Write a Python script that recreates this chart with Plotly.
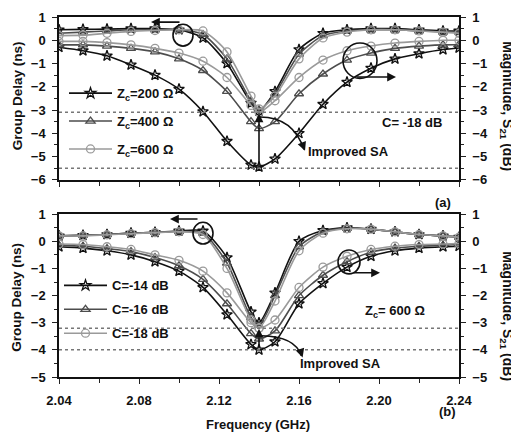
import plotly.graph_objects as go

# ---------------- data ----------------
FREQ = [2.040, 2.052, 2.064, 2.076, 2.088, 2.100, 2.112, 2.124, 2.136, 2.140,
        2.148, 2.160, 2.172, 2.184, 2.196, 2.208, 2.220, 2.232, 2.240]

# (a) C = -18 dB, varying Zc : group delay (left axis) and |S21| (right axis)
GD_A_200 = [0.45, 0.47, 0.48, 0.50, 0.50, 0.45, 0.10, -1.00, -2.70, -3.05,
            -2.20, -0.40, 0.30, 0.45, 0.50, 0.50, 0.45, 0.40, 0.40]
GD_A_400 = [0.30, 0.35, 0.40, 0.45, 0.45, 0.45, 0.25, -0.80, -2.60, -3.00,
            -2.30, -0.60, 0.20, 0.40, 0.45, 0.45, 0.40, 0.35, 0.35]
GD_A_600 = [0.20, 0.22, 0.30, 0.38, 0.42, 0.45, 0.40, -0.50, -2.40, -2.95,
            -2.40, -0.80, 0.10, 0.35, 0.45, 0.45, 0.40, 0.35, 0.30]
MAG_A_200 = [-0.30, -0.45, -0.67, -1.06, -1.50, -2.10, -3.07, -4.34, -5.36, -5.45,
             -5.10, -4.00, -2.75, -1.80, -1.20, -0.80, -0.58, -0.40, -0.33]
MAG_A_400 = [-0.20, -0.20, -0.25, -0.35, -0.50, -0.80, -1.30, -2.20, -3.50, -3.80,
             -3.50, -2.30, -1.45, -0.85, -0.55, -0.35, -0.25, -0.20, -0.18]
MAG_A_600 = [-0.05, -0.05, -0.10, -0.20, -0.35, -0.55, -0.90, -1.60, -2.80, -3.10,
             -2.60, -1.60, -0.85, -0.45, -0.25, -0.12, -0.05, 0.00, 0.00]

# (b) Zc = 600 ohm, varying C
GD_B_14 = [0.20, 0.22, 0.25, 0.30, 0.33, 0.38, 0.38, -0.60, -2.60, -3.00,
           -1.90, 0.00, 0.40, 0.50, 0.45, 0.35, 0.25, 0.20, 0.15]
GD_B_16 = [0.20, 0.22, 0.25, 0.30, 0.33, 0.36, 0.30, -0.80, -2.80, -3.10,
           -2.00, -0.20, 0.35, 0.48, 0.45, 0.35, 0.25, 0.20, 0.15]
GD_B_18 = [0.20, 0.20, 0.24, 0.28, 0.32, 0.35, 0.25, -1.00, -2.90, -3.20,
           -2.20, -0.35, 0.30, 0.46, 0.45, 0.35, 0.25, 0.20, 0.15]
MAG_B_14 = [-0.20, -0.25, -0.35, -0.50, -0.75, -1.10, -1.70, -2.70, -3.80, -4.00,
            -3.70, -2.30, -1.55, -0.95, -0.55, -0.35, -0.25, -0.20, -0.18]
MAG_B_16 = [-0.15, -0.18, -0.27, -0.38, -0.60, -0.90, -1.40, -2.30, -3.40, -3.60,
            -3.30, -2.00, -1.25, -0.75, -0.40, -0.25, -0.18, -0.15, -0.12]
MAG_B_18 = [-0.10, -0.12, -0.20, -0.30, -0.50, -0.70, -1.10, -1.90, -3.00, -3.20,
            -2.90, -1.70, -0.95, -0.55, -0.30, -0.18, -0.12, -0.10, -0.08]

LEGEND_A = ["Z<sub>c</sub>=200 Ω", "Z<sub>c</sub>=400 Ω", "Z<sub>c</sub>=600 Ω"]
LEGEND_B = ["C=-14 dB", "C=-16 dB", "C=-18 dB"]

REF_A = [-3.1, -5.5]      # dotted reference levels (a)
REF_B = [-3.2, -4.0]      # dotted reference levels (b)
DIP_F = 2.14

# ---------------- styles ----------------
COLORS = ["#111111", "#4d4d4d", "#9a9a9a"]
SYMBOLS = ["star-open", "triangle-up-open", "circle-open"]
FONT = "Liberation Sans, Arial, sans-serif"

fig = go.Figure()

def add_pair(gd, mag, i, name, xa, ygd, ymag, legend, group):
    common = dict(x=FREQ, mode="lines+markers", line_shape="spline",
                  line=dict(color=COLORS[i], width=1.6, smoothing=0.7),
                  marker=dict(symbol=SYMBOLS[i], size=8, color=COLORS[i],
                              line=dict(width=1.3, color=COLORS[i])),
                  legendgroup=group, legend=legend, name=name)
    fig.add_trace(go.Scatter(y=gd, xaxis=xa, yaxis=ygd, showlegend=True, **common))
    fig.add_trace(go.Scatter(y=mag, xaxis=xa, yaxis=ymag, showlegend=False, **common))

for i, (g, m) in enumerate([(GD_A_200, MAG_A_200), (GD_A_400, MAG_A_400), (GD_A_600, MAG_A_600)]):
    add_pair(g, m, i, LEGEND_A[i], "x", "y", "y3", "legend", "a%d" % i)
for i, (g, m) in enumerate([(GD_B_14, MAG_B_14), (GD_B_16, MAG_B_16), (GD_B_18, MAG_B_18)]):
    add_pair(g, m, i, LEGEND_B[i], "x2", "y2", "y4", "legend2", "b%d" % i)

tickfont = dict(family=FONT, size=13, color="#111111", weight="bold")
xcommon = dict(range=[2.04, 2.24], tick0=2.04, dtick=0.04, ticks="outside", ticklen=5,
               tickwidth=1.3, tickcolor="#222",
               minor=dict(dtick=0.02, ticks="outside", ticklen=4, tickcolor="#222"),
               showline=True, linecolor="#111", linewidth=1.5, mirror=True,
               showgrid=False, zeroline=False, tickfont=tickfont, tickformat=".2f")
ycommon = dict(dtick=1, ticks="outside", ticklen=5, tickwidth=1.3, tickcolor="#222",
               minor=dict(dtick=0.5, ticks="outside", ticklen=3, tickcolor="#222"),
               showline=True, linecolor="#111", linewidth=1.5,
               showgrid=False, zeroline=False, tickfont=tickfont, ticklabelstandoff=4)

DOM_A = [0.5477, 1.0]
DOM_B = [0.0, 0.4523]

fig.update_layout(
    width=519, height=432,
    margin=dict(l=51, r=68, t=2, b=63),
    paper_bgcolor="white", plot_bgcolor="white",
    font=dict(family=FONT, size=13, color="#111", weight="bold"),
    xaxis=dict(domain=[0, 1], anchor="y", showticklabels=False, **xcommon),
    xaxis2=dict(domain=[0, 1], anchor="y2", showticklabels=True, ticklabelstandoff=6, **xcommon),
    yaxis=dict(domain=DOM_A, range=[-6, 1], anchor="x", mirror=True, **ycommon),
    yaxis3=dict(range=[-6, 1], anchor="x", overlaying="y", side="right", **ycommon),
    yaxis2=dict(domain=DOM_B, range=[-5, 1], anchor="x2", mirror=True, **ycommon),
    yaxis4=dict(range=[-5, 1], anchor="x2", overlaying="y2", side="right", **ycommon),
    legend=dict(x=0.0125, y=0.83, xanchor="left", yanchor="top", bgcolor="rgba(0,0,0,0)",
                itemwidth=43, traceorder="grouped", tracegroupgap=8,
                font=dict(family=FONT, size=13, color="#111", weight="bold")),
    legend2=dict(x=0.0, y=0.296, xanchor="left", yanchor="top", bgcolor="rgba(0,0,0,0)",
                 itemwidth=43, traceorder="grouped", tracegroupgap=4,
                 font=dict(family=FONT, size=13, color="#111", weight="bold")),
    showlegend=True,
)

shapes = []
for v in REF_A:
    shapes.append(dict(type="line", xref="x", yref="y", x0=2.04, x1=2.24, y0=v, y1=v,
                       line=dict(color="#777", width=1.5, dash="dot")))
for v in REF_B:
    shapes.append(dict(type="line", xref="x2", yref="y2", x0=2.04, x1=2.24, y0=v, y1=v,
                       line=dict(color="#777", width=1.5, dash="dot")))
# highlight ellipses
for xr, yr, x0, x1, y0, y1 in [("x", "y", 2.097, 2.107, -0.25, 0.69),
                               ("x", "y", 2.182, 2.199, -1.64, -0.12),
                               ("x2", "y2", 2.107, 2.117, -0.10, 0.70),
                               ("x2", "y2", 2.1795, 2.1905, -1.20, -0.32)]:
    shapes.append(dict(type="circle", xref=xr, yref=yr, x0=x0, x1=x1, y0=y0, y1=y1,
                       line=dict(color="#111", width=1.6)))
# curved "Improved SA" arrows
shapes.append(dict(type="path", xref="x", yref="y",
                   path="M 2.1405,-3.3 Q 2.157,-3.3 2.1625,-4.7",
                   line=dict(color="#111", width=1.6)))
shapes.append(dict(type="path", xref="x2", yref="y2",
                   path="M 2.1413,-3.48 Q 2.158,-3.5 2.1612,-4.22",
                   line=dict(color="#111", width=1.6)))
fig.update_layout(shapes=shapes)

ann = []
def arrow(xr, yr, x, y, ax, ay):
    ann.append(dict(xref=xr, yref=yr, axref=xr, ayref=yr, x=x, y=y, ax=ax, ay=ay,
                    text="", showarrow=True, arrowhead=2, arrowsize=1.1,
                    arrowwidth=1.6, arrowcolor="#111", standoff=0, startstandoff=0))

arrow("x", "y", DIP_F, -3.15, DIP_F, REF_A[1])
arrow("x2", "y2", DIP_F, -3.22, DIP_F, REF_B[1])
arrow("x", "y", 2.086, 0.78, 2.101, 0.78)
arrow("x", "y", 2.2085, -1.58, 2.188, -1.58)
arrow("x2", "y2", 2.0955, 0.82, 2.110, 0.82)
arrow("x2", "y2", 2.2005, -1.16, 2.1865, -1.16)
arrow("x", "y", 2.1630, -4.75, 2.1612, -4.35)
arrow("x2", "y2", 2.1618, -4.28, 2.1605, -3.98)

def text(xr, yr, x, y, t, size=13, angle=0, xanchor="center"):
    ann.append(dict(xref=xr, yref=yr, x=x, y=y, text=t, showarrow=False, textangle=angle,
                    xanchor=xanchor, yanchor="middle",
                    font=dict(family=FONT, size=size, color="#111", weight="bold")))

text("x", "y", 2.1635, -4.78, "Improved SA", xanchor="left")
text("x2", "y2", 2.1595, -4.5, "Improved SA", xanchor="left")
text("x", "y", 2.2165, -3.55, "C= -18 dB")
text("x2", "y2", 2.208, -2.58, "Z<sub>c</sub>= 600 Ω")
text("paper", "paper", 0.96, 0.485, "(a)")
text("paper", "paper", 0.97, -0.095, "(b)")
text("paper", "paper", 0.4975, -0.131, "Frequency (GHz)")
text("paper", "paper", -0.105, 0.78, "Group Delay (ns)", size=13.5, angle=-90)
text("paper", "paper", -0.105, 0.22, "Group Delay (ns)", size=13.5, angle=-90)
text("paper", "paper", 1.12, 0.752, "Magnitude, S<sub>21</sub> (dB)", size=14, angle=90)
text("paper", "paper", 1.12, 0.169, "Magnitude, S<sub>21</sub> (dB)", size=14, angle=90)
fig.update_layout(annotations=ann)

fig.write_html("out.html")
